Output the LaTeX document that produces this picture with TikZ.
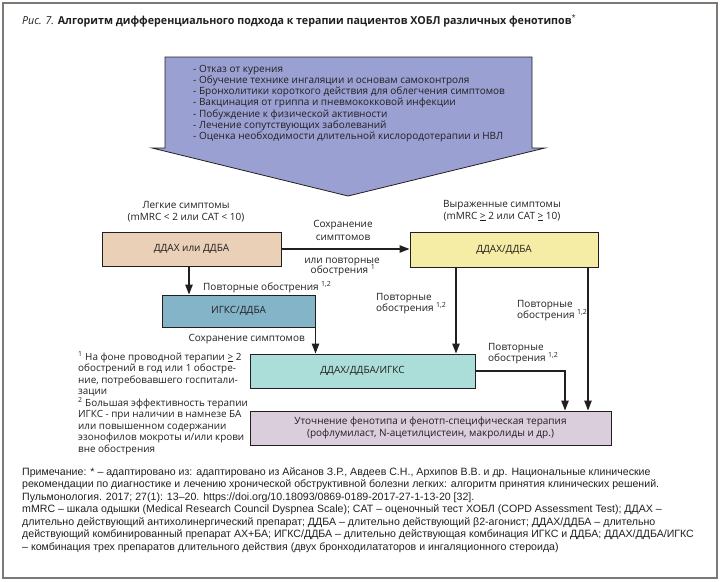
\documentclass[tikz,border=0pt]{standalone}
\usepackage{graphicx}
\usepackage{fontspec}
\setmainfont{Open Sans}
\newfontfamily\notefont{Liberation Sans}
\usetikzlibrary{arrows.meta}
\definecolor{ink}{RGB}{35,31,32}
\definecolor{frameC}{RGB}{125,120,115}
\definecolor{arrowC}{RGB}{154,160,210}
\definecolor{tanC}{RGB}{233,208,183}
\definecolor{yelC}{RGB}{245,236,165}
\definecolor{steelC}{RGB}{132,180,200}
\definecolor{cyanC}{RGB}{172,222,217}
\definecolor{lavC}{RGB}{218,205,220}
\newcommand{\geu}{\underline{\smash{>}}}
\begin{document}
\begin{tikzpicture}[x=1pt,y=-1pt,
  every node/.style={inner sep=0pt, text=ink},
  lbl/.style={font=\fontsize{10}{11}\selectfont},
  boxst/.style={draw=ink, line width=1pt, font=\fontsize{10}{12.5}\selectfont, align=center},
  conn/.style={draw=ink, line width=1.1pt, -{Triangle[length=10pt,width=7.5pt]}},
  lineL/.style={anchor=base west, font=\fontsize{10}{11}\selectfont},
  footL/.style={anchor=base west, font=\fontsize{9.9}{11}\selectfont},
  noteL/.style={anchor=base west, font=\notefont\fontsize{10.6}{11}\selectfont},
]
\useasboundingbox (0,0) rectangle (720,581);
\draw[frameC, line width=1.6pt] (3,3) rectangle (717,578);

% title
\node[anchor=base west, font=\fontsize{11}{12}\selectfont] (title) at (22,24)
  {\scalebox{0.97}[1]{\textit{Рис. 7.} \textbf{Алгоритм дифференциального подхода к терапии пациентов ХОБЛ различных фенотипов}\textsuperscript{*}}};

% big arrow
\draw[ink, line width=0.8pt, fill=arrowC] (165,57) -- (532,57) -- (532,148) -- (545,148) -- (348,196) -- (152,148) -- (165,148) -- cycle;
\foreach \t [count=\i] in {- Отказ от курения,
  - Обучение технике ингаляции и основам самоконтроля,
  - Бронхолитики короткого действия для облегчения симптомов,
  - Вакцинация от гриппа и пневмококковой инфекции,
  - Побуждение к физической активности,
  - Лечение сопутствующих заболеваний,
  - Оценка необходимости длительной кислородотерапии и НВЛ}
  \node[lineL] (li\i) at (193,{72+11.3*(\i-1)}) {\t};

% boxes
\node[boxst, fill=tanC, minimum width=179pt, minimum height=34pt] (b1) at (191.5,249) {ДДАХ или ДДБА};
\node[boxst, fill=yelC, minimum width=188pt, minimum height=35pt] (b2) at (504,249.5) {ДДАХ/ДДБА};
\node[boxst, fill=steelC, minimum width=153pt, minimum height=32pt] (b3) at (238.5,311) {ИГКС/ДДБА};
\node[boxst, fill=cyanC, minimum width=225pt, minimum height=34pt] (b4) at (362.5,371) {ДДАХ/ДДБА/ИГКС};
\node[boxst, fill=lavC, minimum width=361pt, minimum height=34pt] (b5) at (430.5,428) {Уточнение фенотипа и фенотп-специфическая терапия\\(рофлумиласт, N-ацетилцистеин, макролиды и др.)};

% guide coordinates
\coordinate (xa) at (189,0);
\coordinate (xb) at (456,0);
\coordinate (xc) at (588,0);
\coordinate (xd) at (565,0);

% connectors
\draw[conn] (b1.east) -- (b1.east -| b2.west);
\draw[conn] (b1.south -| xa) -- (b3.north -| xa);
\draw[conn] (b3.south east) -- (b3.south east |- b4.north);
\draw[conn] (b2.south -| xb) -- (b4.north -| xb);
\draw[conn] (b2.south -| xc) -- (b5.north -| xc);
\draw[conn] (b4.east) -| (b5.north -| xd);

% labels
\node[lbl, anchor=base] (l1) at (186,208) {Легкие симптомы};
\node[lbl, anchor=base] (l2) at (186,220) {(mMRC < 2 или CAT < 10)};
\node[lbl, anchor=base] (r1) at (502,207) {Выраженные симптомы};
\node[lbl, anchor=base] (r2) at (502,219) {(mMRC \geu{} 2 или CAT \geu{} 10)};
\node[lbl, anchor=base] (m1) at (343,227.5) {Сохранение};
\node[lbl, anchor=base] (m2) at (343,240) {симптомов};
\node[lbl, anchor=base] (m3) at (342,263) {или повторные};
\node[lbl, anchor=base] (m4) at (343,273.5) {обострения \textsuperscript{1}};
\node[lbl, anchor=base west] (p1) at (203,290) {Повторные обострения \textsuperscript{1,2}};
\node[lbl, anchor=base east] (s1) at (305,341) {Сохранение симптомов};
\node[lbl, anchor=base west] (p2a) at (376,300) {Повторные};
\node[lbl, anchor=base west] (p2b) at (376,311.5) {обострения \textsuperscript{1,2}};
\node[lbl, anchor=base west] (p3a) at (517,307) {Повторные};
\node[lbl, anchor=base west] (p3b) at (517,318.5) {обострения \textsuperscript{1,2}};
\node[lbl, anchor=base west] (p4a) at (488,350) {Повторные};
\node[lbl, anchor=base west] (p4b) at (488,361.5) {обострения \textsuperscript{1,2}};

% footnotes
\foreach \t [count=\i] in {{\textsuperscript{1} На фоне проводной терапии \geu{} 2},
  {обострений в год или 1 обостре-},
  {ние, потребовавшего госпитали-},
  {зации},
  {\textsuperscript{2} Большая эффективность терапии},
  {ИГКС - при наличии в намнезе БА},
  {или повышенном содержании},
  {эзонофилов мокроты и/или крови},
  {вне обострения}}
  \node[footL] (fn\i) at (78,{360+11.5*(\i-1)}) {\t};

% notes
\foreach \t [count=\i] in {{Примечание: * – адаптировано из: адаптировано из Айсанов З.Р., Авдеев С.Н., Архипов В.В. и др. Национальные клинические},
  {рекомендации по диагностике и лечению хронической обструктивной болезни легких: алгоритм принятия клинических решений.},
  {Пульмонология. 2017; 27(1): 13–20. https://doi.org/10.18093/0869-0189-2017-27-1-13-20 [32].},
  {mMRC – шкала одышки (Medical Research Council Dyspnea Scale); CAT – оценочный тест ХОБЛ (COPD Assessment Test); ДДАХ –},
  {длительно действующий антихолинергический препарат; ДДБА – длительно действующий β2-агонист; ДДАХ/ДДБА – длительно},
  {действующий комбинированный препарат АХ+БА; ИГКС/ДДБА – длительно действующая комбинация ИГКС и ДДБА; ДДАХ/ДДБА/ИГКС},
  {– комбинация трех препаратов длительного действия (двух бронходилататоров и ингаляционного стероида)}}
  \node[noteL] (nt\i) at (22,{475+12.5*(\i-1)}) {\t};
\end{tikzpicture}
\end{document}
